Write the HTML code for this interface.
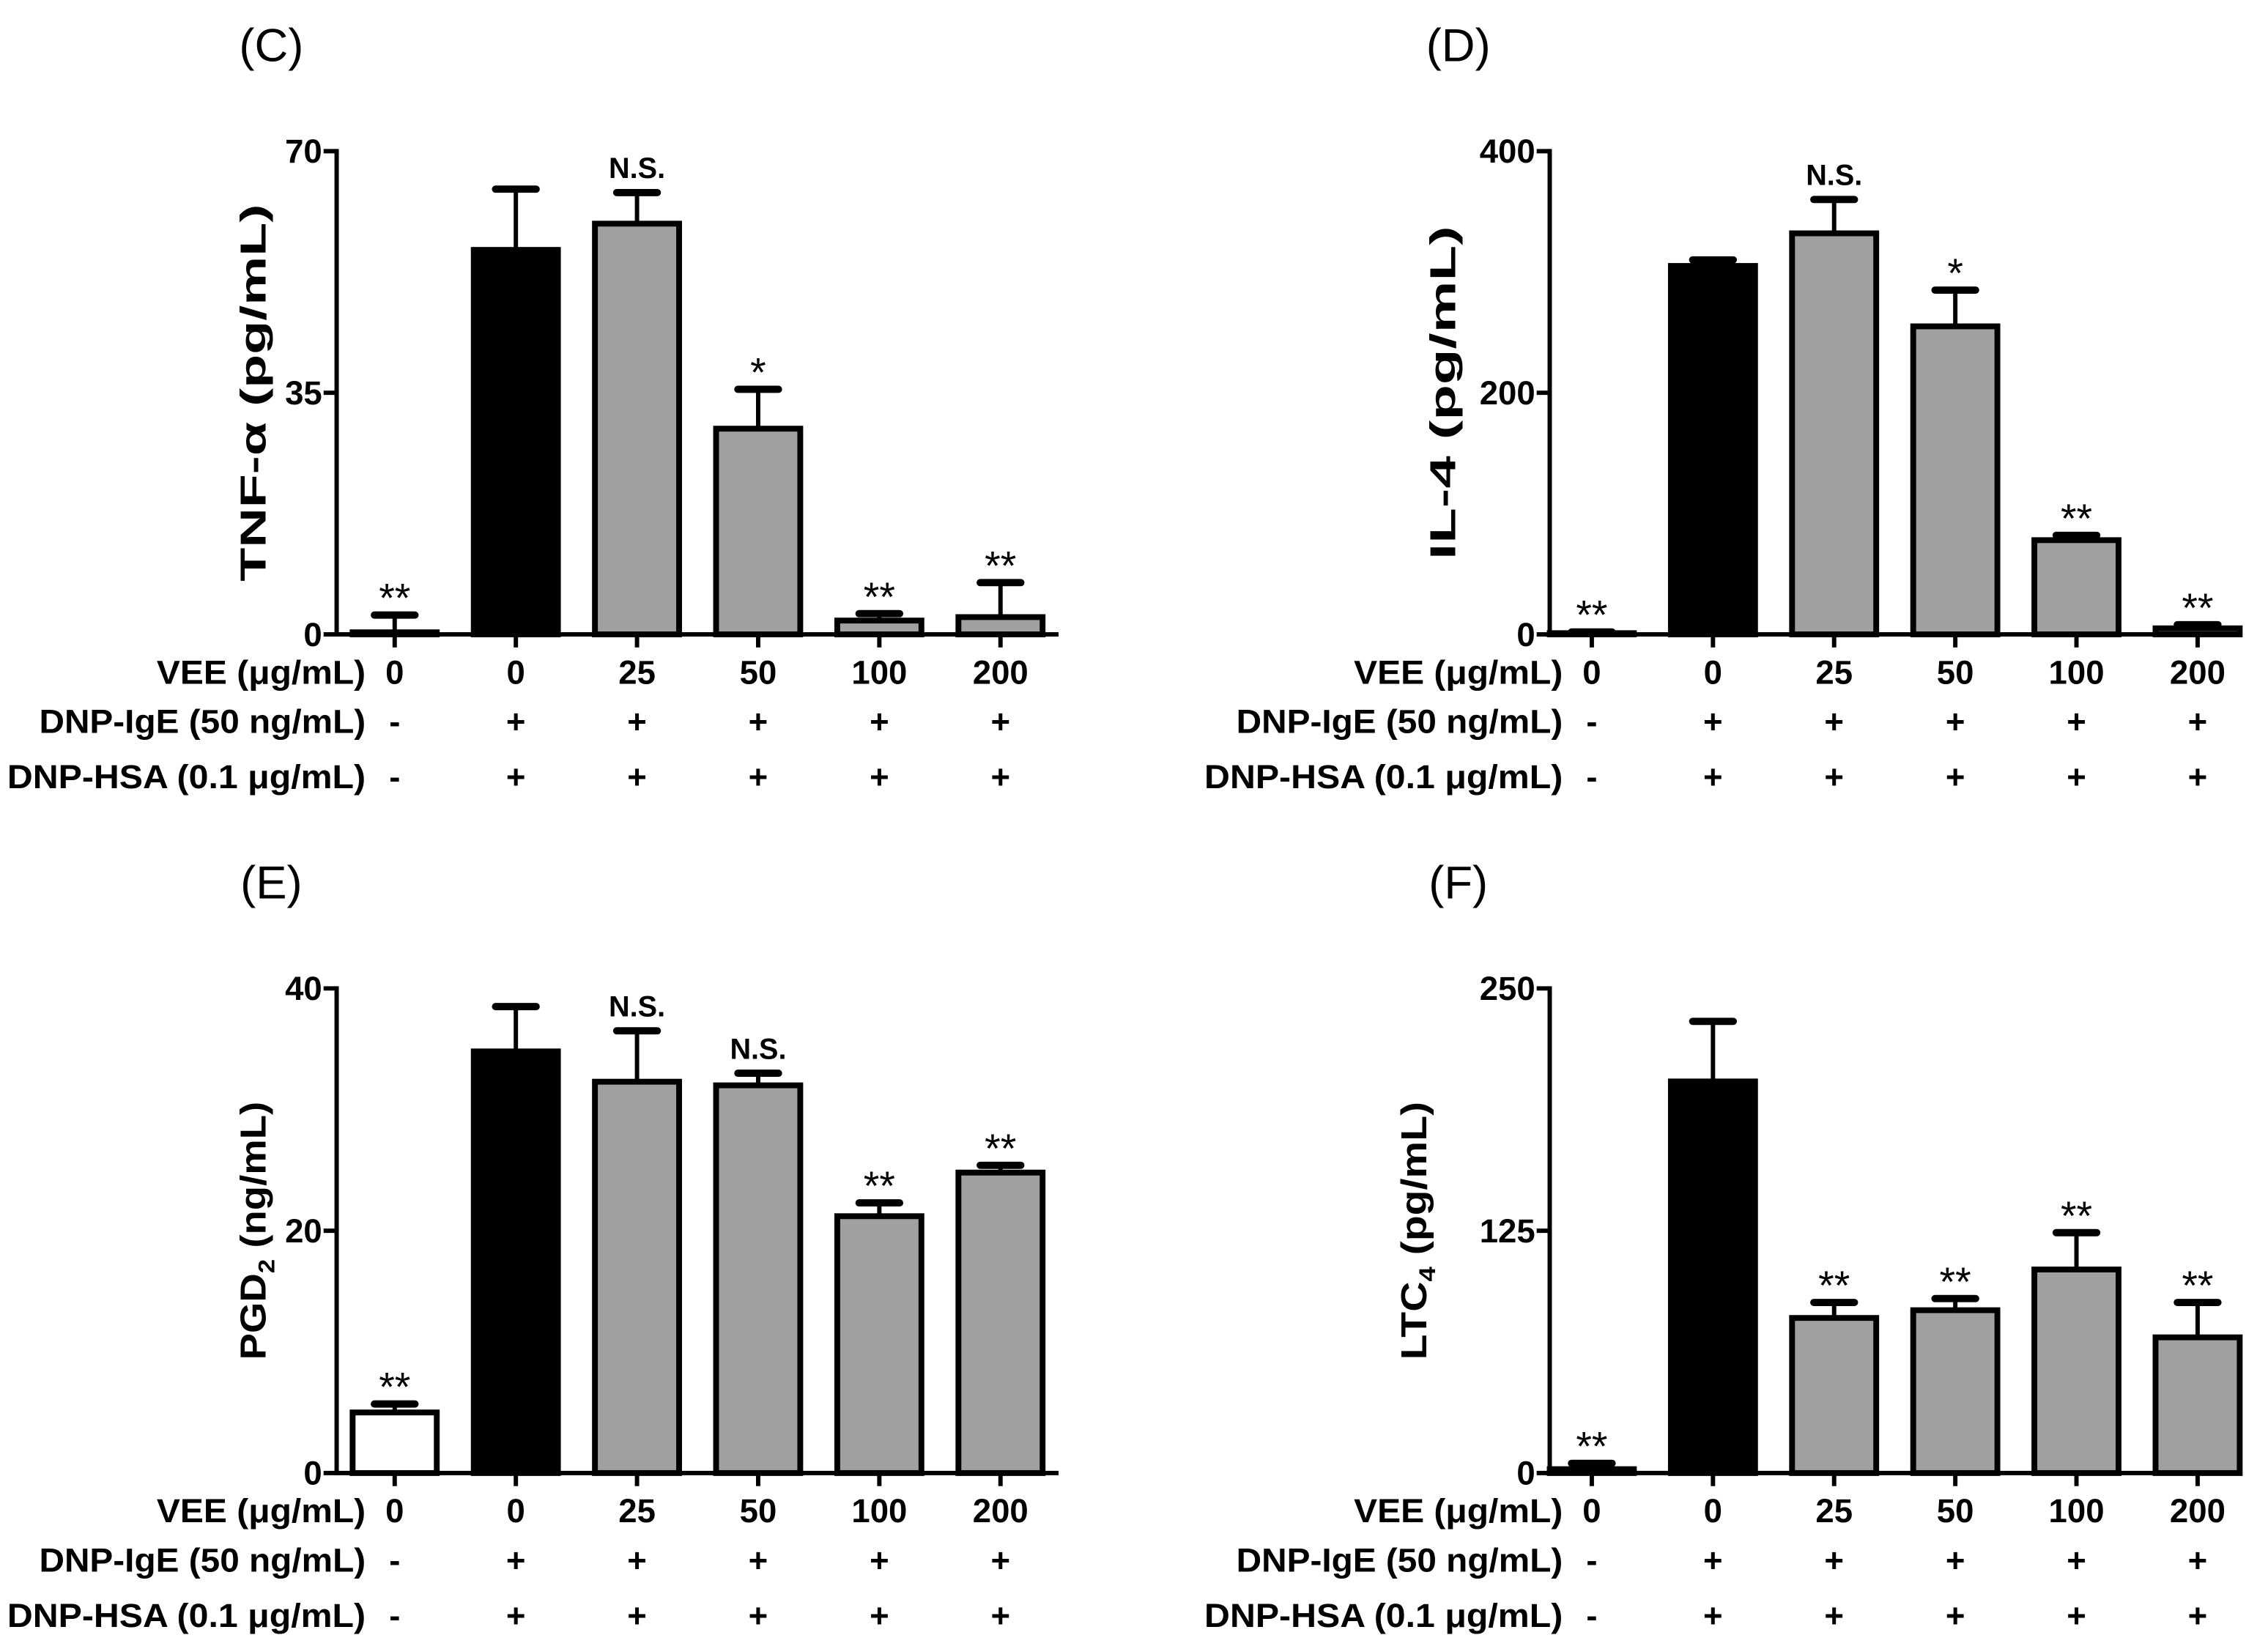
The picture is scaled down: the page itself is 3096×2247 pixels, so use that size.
<!DOCTYPE html>
<html><head><meta charset="utf-8"><style>
html,body{margin:0;padding:0;background:#fff;}
svg{display:block;}
text{font-family:"Liberation Sans Narrow","Liberation Sans",sans-serif;fill:#000;}
</style></head><body>
<svg id="fig" width="3096" height="2247" viewBox="0 0 1563 1134" xmlns="http://www.w3.org/2000/svg"></svg>
<script>
// Panel data
const doseLabels = ["0","0","25","50","100","200"];
const igeLabels = ["-","+","+","+","+","+"];
const hsaLabels = ["-","+","+","+","+","+"];
const tnfValues = [0.3, 55.7, 59.5, 29.8, 2.0, 2.5];
const tnfErrors = [2.5, 8.8, 4.5, 5.7, 1.0, 5.0];
const tnfSig = ["**", "", "N.S.", "*", "**", "**"];
const tnfTicks = [0, 35, 70];
const il4Values = [1, 305, 332, 255, 78, 5];
const il4Errors = [1, 5, 28, 30, 4, 3];
const il4Sig = ["**", "", "N.S.", "*", "**", "**"];
const il4Ticks = [0, 200, 400];
const pgdValues = [5.0, 34.8, 32.3, 32.0, 21.2, 24.8];
const pgdErrors = [0.7, 3.7, 4.2, 1.0, 1.1, 0.6];
const pgdSig = ["**", "", "N.S.", "N.S.", "**", "**"];
const pgdTicks = [0, 20, 40];
const ltcValues = [2, 202, 80, 84, 105, 70];
const ltcErrors = [3, 31, 8, 6, 19, 18];
const ltcSig = ["**", "", "**", "**", "**", "**"];
const ltcTicks = [0, 125, 250];
const fills = ["#ffffff", "#000000", "#a0a0a0", "#a0a0a0", "#a0a0a0", "#a0a0a0"];

const svg = document.getElementById('fig');
const NS = "http://www.w3.org/2000/svg";
function mk(tag, attrs, parent, txt) {
  const e = document.createElementNS(NS, tag);
  for (const k in attrs) e.setAttribute(k, attrs[k]);
  if (txt !== undefined) e.textContent = txt;
  (parent || svg).appendChild(e);
  return e;
}

function panel(key, letter, ax, off, top, zero, values, errors, sig, ticks, titleParts, titleX, titleLen, labelX) {
  const g = mk('g', {});
  
  
  const maxV = ticks[ticks.length - 1];
  const y = v => zero - (v / maxV) * (zero - top);
  const x = i => ax + off + i * 83.5;
  const lt = mk('text', {x: labelX, y: top - 62, 'font-size': 32, 'text-anchor': 'middle', 'font-family': 'Liberation Sans'}, g, '(' + letter + ')');
  
  
  // y axis
  const ya = mk('g', {}, g);
  
  
  mk('line', {x1: ax, y1: top - 1.5, x2: ax, y2: zero + 1.5, stroke: '#000', 'stroke-width': 3}, ya);
  ticks.forEach(t => {
    mk('line', {x1: ax - 9, y1: y(t), x2: ax, y2: y(t), stroke: '#000', 'stroke-width': 3}, ya);
    const tl = mk('text', {x: ax - 10, y: y(t) + 8, 'font-size': 23, 'font-weight': 'bold', 'text-anchor': 'end'}, ya, String(t));
    
    
  });
  // y title
  const tt = mk('text', {transform: `translate(${titleX},${(top + zero) / 2}) rotate(-90)`, 'font-size': 25, 'font-weight': 'bold', 'text-anchor': 'middle', textLength: titleLen, lengthAdjust: 'spacingAndGlyphs'}, g);
  
  
  titleParts.forEach(p => {
    mk('tspan', p.sub ? {'font-size': 16, dy: 6} : (p.after ? {dy: -6} : {}), tt, p.t);
  });
  // bars
  values.forEach((v, i) => {
    const cx = x(i), w = 58;
    const top1 = y(v + errors[i]);
    const eb = mk('g', {}, g);
    
    
    mk('line', {x1: cx, y1: y(v), x2: cx, y2: top1, stroke: '#000', 'stroke-width': 3}, eb);
    mk('line', {x1: cx - 14, y1: top1, x2: cx + 14, y2: top1, stroke: '#000', 'stroke-width': 5, 'stroke-linecap': 'round'}, eb);
    const r = mk('rect', {x: cx - w / 2, y: y(v), width: w, height: Math.max(zero - y(v), 0.5), fill: fills[i], stroke: '#000', 'stroke-width': 4}, g);
    
    
    if (sig[i]) {
      const ns = sig[i] === 'N.S.';
      const st = mk('text', {x: cx, y: top1 - (ns ? 10 : 2), 'font-size': ns ? 20 : 28, 'font-weight': ns ? 'bold' : 'normal', 'text-anchor': 'middle', 'font-family': ns ? '"Liberation Sans Narrow","Liberation Sans",sans-serif' : '"Liberation Sans",sans-serif'}, g, sig[i]);
      
      
    }
  });
  // x axis
  const xa = mk('g', {}, g);
  
  
  mk('line', {x1: ax, y1: zero, x2: x(5) + off, y2: zero, stroke: '#000', 'stroke-width': 3}, xa);
  const rows = [["VEE (μg/mL)", doseLabels, 26, 144], ["DNP-IgE (50 ng/mL)", igeLabels, 60, 225], ["DNP-HSA (0.1 μg/mL)", hsaLabels, 98, 247]];
  values.forEach((v, i) => mk('line', {x1: x(i), y1: zero, x2: x(i), y2: zero + 9, stroke: '#000', 'stroke-width': 3}, xa));
  rows.forEach((row, ri) => {
    const ry = zero + row[2] + 8;
    const lab = mk('text', {x: x(0) - 20 - row[3], y: ry, 'font-size': 23, 'font-weight': 'bold', textLength: row[3], lengthAdjust: 'spacingAndGlyphs'}, xa, row[0]);
    
    
    row[1].forEach((t, i) => {
      const c = mk('text', {x: x(i), y: ry, 'font-size': 23, 'font-weight': 'bold', 'text-anchor': 'middle'}, xa, t);
      
      
    });
  });
}

panel('c', 'C', 232, 40, 104, 437, tnfValues, tnfErrors, tnfSig, tnfTicks, [{t: 'TNF-α (pg/mL)'}], 183, 260, 187);
panel('d', 'D', 1068, 29, 104, 437, il4Values, il4Errors, il4Sig, il4Ticks, [{t: 'IL-4 (pg/mL)'}], 1003, 230, 1005);
panel('e', 'E', 232, 40, 681, 1015, pgdValues, pgdErrors, pgdSig, pgdTicks, [{t: 'PGD'}, {t: '2', sub: true}, {t: ' (ng/mL)', after: true}], 183, 178, 187);
panel('f', 'F', 1068, 29, 681, 1015, ltcValues, ltcErrors, ltcSig, ltcTicks, [{t: 'LTC'}, {t: '4', sub: true}, {t: ' (pg/mL)', after: true}], 983, 178, 1005);
</script>
</body></html>
